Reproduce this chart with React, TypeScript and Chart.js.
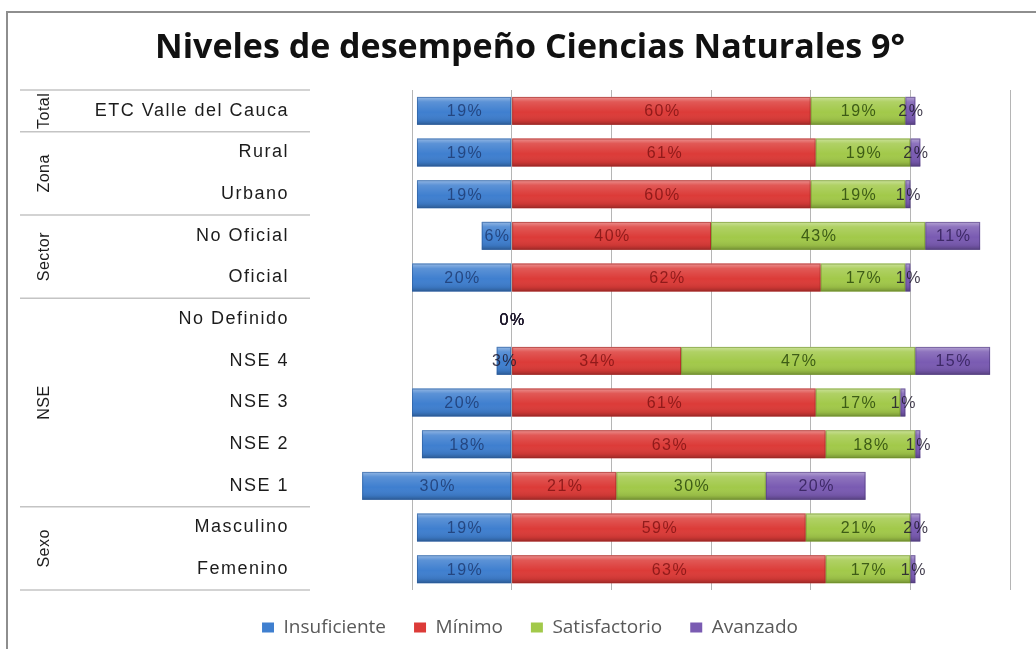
import React, { useEffect, useRef } from "react";
import { Chart, registerables } from "chart.js";

Chart.register(...registerables);

const titleText = "Niveles de desempeño Ciencias Naturales 9°";
const categories = [
  "ETC Valle del Cauca",
  "Rural",
  "Urbano",
  "No Oficial",
  "Oficial",
  "No Definido",
  "NSE 4",
  "NSE 3",
  "NSE 2",
  "NSE 1",
  "Masculino",
  "Femenino",
];
const groupLabels = ["Total", "Zona", "Sector", "NSE", "Sexo"];
const groupSizes = [1, 2, 2, 5, 2];

const seriesNames = ["Insuficiente", "Mínimo", "Satisfactorio", "Avanzado"];
const insuficiente = [19, 19, 19, 6, 20, 0, 3, 20, 18, 30, 19, 19];
const minimo = [60, 61, 60, 40, 62, 0, 34, 61, 63, 21, 59, 63];
const satisfactorio = [19, 19, 19, 43, 17, 0, 47, 17, 18, 30, 21, 17];
const avanzado = [2, 2, 1, 11, 1, 0, 15, 1, 1, 20, 2, 1];

const barColors = ["#3f7fcf", "#dc3b38", "#a2c94a", "#7a5bb2"];
const edgeColors = ["#2a5a9a", "#9c2422", "#6e8f2a", "#4f3a7d"];
const labelColors = ["rgba(30,60,115,0.85)", "rgba(130,20,20,0.85)", "rgba(50,80,15,0.9)", "rgba(55,35,95,0.9)"];

export default function App() {
  const ref = useRef<HTMLCanvasElement>(null);

  useEffect(() => {
    const canvas = ref.current;
    if (!canvas) return;

    const overlayPlugin = {
      id: "overlayLabels",
      afterDatasetsDraw(chart: any) {
        const ctx = chart.ctx as CanvasRenderingContext2D;
        ctx.save();
        // bevel shading
        chart.data.datasets.forEach((ds: any, d: number) => {
          const meta = chart.getDatasetMeta(d);
          meta.data.forEach((el: any) => {
            const p = el.getProps(["x", "y", "base", "height"], true);
            const left = Math.min(p.x, p.base);
            const w = Math.abs(p.x - p.base);
            if (w < 0.5) return;
            const top = p.y - p.height / 2;
            const g = ctx.createLinearGradient(0, top, 0, top + p.height);
            g.addColorStop(0, "rgba(255,255,255,0.45)");
            g.addColorStop(0.18, "rgba(255,255,255,0.15)");
            g.addColorStop(0.55, "rgba(255,255,255,0)");
            g.addColorStop(0.85, "rgba(0,0,0,0.08)");
            g.addColorStop(1, "rgba(0,0,0,0.28)");
            ctx.fillStyle = g;
            ctx.fillRect(left, top, w, p.height);
            ctx.strokeStyle = edgeColors[d];
            ctx.globalAlpha = 0.6;
            ctx.lineWidth = 1;
            ctx.strokeRect(left + 0.5, top + 0.5, Math.max(w - 1, 0), p.height - 1);
            ctx.globalAlpha = 1;
          });
        });
        // data labels
        ctx.font = "16px 'Liberation Sans', Arial, sans-serif";
        ctx.textAlign = "center";
        ctx.textBaseline = "middle";
        (ctx as any).letterSpacing = "1.5px";
        chart.data.datasets.forEach((ds: any, d: number) => {
          const meta = chart.getDatasetMeta(d);
          meta.data.forEach((el: any, i: number) => {
            const p = el.getProps(["x", "y", "base"], true);
            const v = Math.abs(ds.data[i]);
            const w = Math.abs(p.x - p.base);
            ctx.fillStyle = w < 25 ? "rgba(30,25,45,0.85)" : labelColors[d];
            ctx.fillText(v + "%", (p.x + p.base) / 2 + 1, p.y + 1);
          });
        });
        ctx.restore();
      },
      afterDraw(chart: any) {
        const ctx = chart.ctx as CanvasRenderingContext2D;
        const ys = chart.scales.y;
        const area = chart.chartArea;
        ctx.save();
        // separator lines
        const bounds: number[] = [area.top];
        let idx = 0;
        groupSizes.forEach((n) => {
          idx += n;
          if (idx < categories.length) {
            bounds.push((ys.getPixelForValue(idx - 1) + ys.getPixelForValue(idx)) / 2);
          }
        });
        bounds.push(area.bottom);
        ctx.strokeStyle = "#c4c4c4";
        ctx.lineWidth = 1.5;
        bounds.forEach((b) => {
          ctx.beginPath();
          ctx.moveTo(20, b);
          ctx.lineTo(310, b);
          ctx.stroke();
        });
        // category labels
        ctx.font = "18px 'Liberation Sans', Arial, sans-serif";
        ctx.fillStyle = "#1c1c1c";
        ctx.textAlign = "right";
        ctx.textBaseline = "middle";
        (ctx as any).letterSpacing = "1.5px";
        categories.forEach((c, i) => {
          ctx.fillText(c, 289, ys.getPixelForValue(i));
        });
        // group labels (vertical)
        ctx.font = "16px 'Liberation Sans', Arial, sans-serif";
        ctx.textAlign = "center";
        (ctx as any).letterSpacing = "0.5px";
        groupSizes.forEach((n, g) => {
          const top = bounds[g];
          const bottom = bounds[g + 1];
          const cy = (top + bottom) / 2;
          ctx.save();
          ctx.translate(45, cy);
          ctx.rotate(-Math.PI / 2);
          ctx.fillText(groupLabels[g], 0, 0);
          ctx.restore();
        });
        ctx.restore();
      },
    };

    const chart = new Chart(canvas, {
      type: "bar",
      data: {
        labels: categories,
        datasets: [
          { label: seriesNames[0], data: insuficiente.map((v) => -v), backgroundColor: barColors[0], borderColor: edgeColors[0], borderWidth: 0, clip: false as any },
          { label: seriesNames[1], data: minimo, backgroundColor: barColors[1], borderColor: edgeColors[1], borderWidth: 0, clip: false as any },
          { label: seriesNames[2], data: satisfactorio, backgroundColor: barColors[2], borderColor: edgeColors[2], borderWidth: 0, clip: false as any },
          { label: seriesNames[3], data: avanzado, backgroundColor: barColors[3], borderColor: edgeColors[3], borderWidth: 0, clip: false as any },
        ],
      },
      options: {
        indexAxis: "y",
        responsive: false,
        animation: false,
        datasets: { bar: { categoryPercentage: 1, barPercentage: 0.67 } },
        layout: { padding: { left: 50, right: 26, top: 0, bottom: 2 } },
        plugins: {
          title: {
            display: true,
            text: titleText,
            color: "#111111",
            font: { family: "'Open Sans', sans-serif", size: 34, weight: "bold" },
            padding: { top: 27.6, bottom: 21.6 },
          },
          legend: {
            position: "bottom",
            labels: {
              font: { family: "'Open Sans', sans-serif", size: 19 },
              color: "#595959",
              boxWidth: 12,
              boxHeight: 10,
              padding: 28,
            },
          },
          tooltip: { enabled: false },
        },
        scales: {
          x: {
            stacked: true,
            min: -20,
            max: 100,
            ticks: { display: false, stepSize: 20 },
            grid: { color: "#b5b5b5", drawTicks: false },
            border: { display: false },
            afterFit: (s: any) => {
              s.height = 0;
            },
          },
          y: {
            stacked: true,
            ticks: { display: false },
            grid: { display: false, drawTicks: false },
            border: { display: false },
            afterFit: (s: any) => {
              s.width = 362;
            },
          },
        },
      } as any,
      plugins: [overlayPlugin],
    });

    return () => chart.destroy();
  }, []);

  return (
    <div
      style={{
        position: "fixed",
        left: 0,
        top: 0,
        width: 1036,
        height: 649,
        overflow: "hidden",
        background: "#ffffff",
      }}
    >
      <div
        style={{
          position: "absolute",
          left: 6,
          top: 11,
          width: 1100,
          height: 700,
          borderLeft: "2px solid #8e8e8e",
          borderTop: "2px solid #8e8e8e",
        }}
      />
      <canvas ref={ref} width={1036} height={649} style={{ position: "absolute", left: 0, top: 0 }} />
    </div>
  );
}
